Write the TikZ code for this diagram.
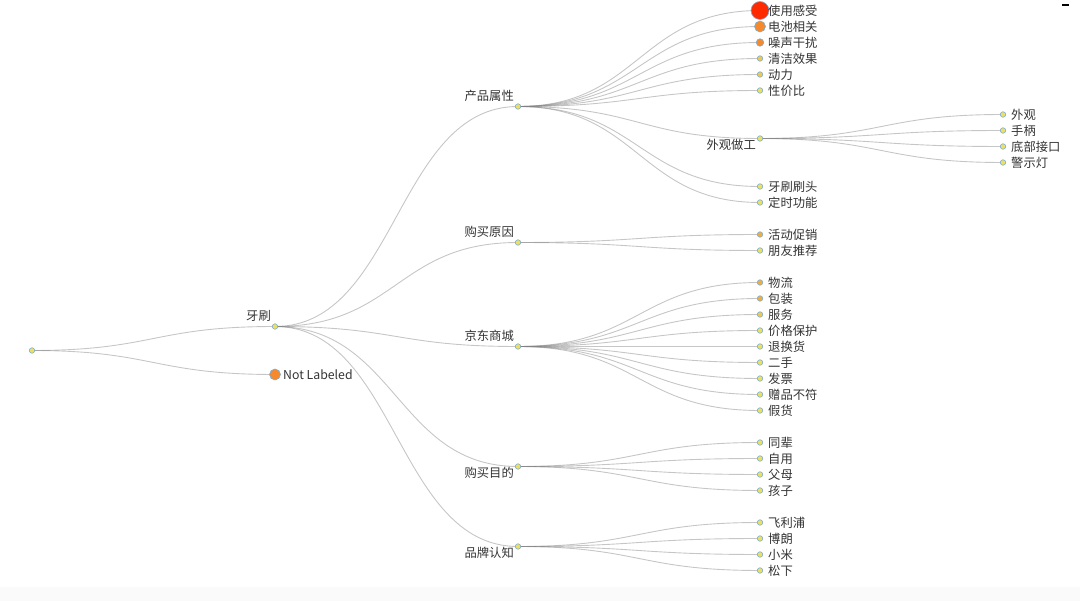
\documentclass[tikz,border=0pt]{standalone}
\usepackage{fontspec}
\newfontfamily\cjk{Noto Sans CJK SC}
\usepackage{tikz}
\usetikzlibrary{positioning,calc,backgrounds}
\definecolor{LinkGray}{HTML}{808080}
\definecolor{DotRim}{HTML}{78AEDC}
\definecolor{DotFill}{HTML}{F0DE5C}
\definecolor{DotMild}{HTML}{F2C84E}
\definecolor{DotWarm}{HTML}{F4AE38}
\definecolor{DotHot}{HTML}{F5892B}
\definecolor{DotHottest}{HTML}{FF2A00}
\definecolor{LabelInk}{HTML}{333333}
\definecolor{BandGray}{HTML}{FAFAFA}

\begin{document}
\begin{tikzpicture}[
  x=1pt, y=-1pt,
  dot/.style={circle, draw=DotRim, fill=DotFill, line width=0.6pt, inner sep=0pt, minimum size=5.5pt},
  mild/.style={dot, fill=DotMild},
  warm/.style={dot, fill=DotWarm},
  hot/.style={dot, fill=DotHot, minimum size=7.5pt},
  hotter/.style={dot, fill=DotHot, minimum size=11pt},
  hottest/.style={dot, fill=DotHottest, minimum size=18pt},
  leaf/.style={font=\cjk\fontsize{12.3}{14}\selectfont, text=LabelInk, inner sep=0pt, yshift=-0.6pt},
  branch/.style={leaf},
  link/.style={draw=LinkGray, draw opacity=0.45, line width=0.9pt,
    to path={let \p1=(\tikztostart), \p2=(\tikztotarget) in
      .. controls ({(\x1+\x2)/2},\y1) and ({(\x1+\x2)/2},\y2) .. (\tikztotarget)}}
]
\useasboundingbox (0,0) rectangle (1080,601);
\fill[BandGray] (0,587) rectangle (1080,601);
\draw[line width=2pt] (1062,5) -- (1069,5);

% root and first level
\node[dot] (root) at (32,350.5) {};
\node[dot] (brush) at (275,326.5) {};
\node[branch, above left=5pt and 4pt of brush.center] (brush-t) {牙刷};
\node[hotter] (unlabeled) at (275,374.5) {};
\node[leaf, right=8pt of unlabeled.center] (unlabeled-t) {Not Labeled};

% second level
\node[dot] (attr) at (518,106.5) {};
\node[branch, above left=5pt and 4pt of attr.center] (attr-t) {产品属性};
\node[dot] (reason) at (518,242.5) {};
\node[branch, above left=5pt and 4pt of reason.center] (reason-t) {购买原因};
\node[dot] (jd) at (518,346.5) {};
\node[branch, above left=5pt and 4pt of jd.center] (jd-t) {京东商城};
\node[dot] (purpose) at (518,466.5) {};
\node[branch, below left=0pt and 4pt of purpose.center] (purpose-t) {购买目的};
\node[dot] (brand) at (518,546.5) {};
\node[branch, below left=0pt and 4pt of brand.center] (brand-t) {品牌认知};

% product attributes
\node[hottest] (use) at (760,10.5) {};
\node[leaf, right=8pt of use.center] (use-t) {使用感受};
\node[hotter] (battery) at (760,26.5) {};
\node[leaf, right=8pt of battery.center] (battery-t) {电池相关};
\node[hot] (noise) at (760,42.5) {};
\node[leaf, right=8pt of noise.center] (noise-t) {噪声干扰};
\node[mild] (clean) at (760,58.5) {};
\node[leaf, right=8pt of clean.center] (clean-t) {清洁效果};
\node[mild] (power) at (760,74.5) {};
\node[leaf, right=8pt of power.center] (power-t) {动力};
\node[dot] (value) at (760,90.5) {};
\node[leaf, right=8pt of value.center] (value-t) {性价比};
\node[dot] (look) at (760,138.5) {};
\node[branch, below left=0pt and 4pt of look.center] (look-t) {外观做工};
\node[dot] (head) at (760,186.5) {};
\node[leaf, right=8pt of head.center] (head-t) {牙刷刷头};
\node[dot] (timer) at (760,202.5) {};
\node[leaf, right=8pt of timer.center] (timer-t) {定时功能};

% appearance
\node[dot] (exterior) at (1003,114.5) {};
\node[leaf, right=8pt of exterior.center] (exterior-t) {外观};
\node[dot] (handle) at (1003,130.5) {};
\node[leaf, right=8pt of handle.center] (handle-t) {手柄};
\node[dot] (port) at (1003,146.5) {};
\node[leaf, right=8pt of port.center] (port-t) {底部接口};
\node[dot] (warnlight) at (1003,162.5) {};
\node[leaf, right=8pt of warnlight.center] (warnlight-t) {警示灯};

% reasons
\node[warm] (promo) at (760,234.5) {};
\node[leaf, right=8pt of promo.center] (promo-t) {活动促销};
\node[dot] (friend) at (760,250.5) {};
\node[leaf, right=8pt of friend.center] (friend-t) {朋友推荐};

% jd mall
\node[warm] (logistics) at (760,282.5) {};
\node[leaf, right=8pt of logistics.center] (logistics-t) {物流};
\node[warm] (package) at (760,298.5) {};
\node[leaf, right=8pt of package.center] (package-t) {包装};
\node[mild] (service) at (760,314.5) {};
\node[leaf, right=8pt of service.center] (service-t) {服务};
\node[dot] (priceguard) at (760,330.5) {};
\node[leaf, right=8pt of priceguard.center] (priceguard-t) {价格保护};
\node[dot] (returns) at (760,346.5) {};
\node[leaf, right=8pt of returns.center] (returns-t) {退换货};
\node[dot] (secondhand) at (760,362.5) {};
\node[leaf, right=8pt of secondhand.center] (secondhand-t) {二手};
\node[dot] (invoice) at (760,378.5) {};
\node[leaf, right=8pt of invoice.center] (invoice-t) {发票};
\node[dot] (gift) at (760,394.5) {};
\node[leaf, right=8pt of gift.center] (gift-t) {赠品不符};
\node[dot] (fake) at (760,410.5) {};
\node[leaf, right=8pt of fake.center] (fake-t) {假货};

% purpose
\node[dot] (peer) at (760,442.5) {};
\node[leaf, right=8pt of peer.center] (peer-t) {同辈};
\node[dot] (self) at (760,458.5) {};
\node[leaf, right=8pt of self.center] (self-t) {自用};
\node[dot] (parents) at (760,474.5) {};
\node[leaf, right=8pt of parents.center] (parents-t) {父母};
\node[dot] (kids) at (760,490.5) {};
\node[leaf, right=8pt of kids.center] (kids-t) {孩子};

% brands
\node[dot] (philips) at (760,522.5) {};
\node[leaf, right=8pt of philips.center] (philips-t) {飞利浦};
\node[dot] (braun) at (760,538.5) {};
\node[leaf, right=8pt of braun.center] (braun-t) {博朗};
\node[dot] (xiaomi) at (760,554.5) {};
\node[leaf, right=8pt of xiaomi.center] (xiaomi-t) {小米};
\node[dot] (panasonic) at (760,570.5) {};
\node[leaf, right=8pt of panasonic.center] (panasonic-t) {松下};

\begin{scope}[on background layer]
\draw[link] (root.center) to (brush.center);
\draw[link] (root.center) to (unlabeled.center);
\draw[link] (brush.center) to (attr.center);
\draw[link] (brush.center) to (reason.center);
\draw[link] (brush.center) to (jd.center);
\draw[link] (brush.center) to (purpose.center);
\draw[link] (brush.center) to (brand.center);
\draw[link] (attr.center) to (use.center);
\draw[link] (attr.center) to (battery.center);
\draw[link] (attr.center) to (noise.center);
\draw[link] (attr.center) to (clean.center);
\draw[link] (attr.center) to (power.center);
\draw[link] (attr.center) to (value.center);
\draw[link] (attr.center) to (look.center);
\draw[link] (attr.center) to (head.center);
\draw[link] (attr.center) to (timer.center);
\draw[link] (look.center) to (exterior.center);
\draw[link] (look.center) to (handle.center);
\draw[link] (look.center) to (port.center);
\draw[link] (look.center) to (warnlight.center);
\draw[link] (reason.center) to (promo.center);
\draw[link] (reason.center) to (friend.center);
\draw[link] (jd.center) to (logistics.center);
\draw[link] (jd.center) to (package.center);
\draw[link] (jd.center) to (service.center);
\draw[link] (jd.center) to (priceguard.center);
\draw[link] (jd.center) to (returns.center);
\draw[link] (jd.center) to (secondhand.center);
\draw[link] (jd.center) to (invoice.center);
\draw[link] (jd.center) to (gift.center);
\draw[link] (jd.center) to (fake.center);
\draw[link] (purpose.center) to (peer.center);
\draw[link] (purpose.center) to (self.center);
\draw[link] (purpose.center) to (parents.center);
\draw[link] (purpose.center) to (kids.center);
\draw[link] (brand.center) to (philips.center);
\draw[link] (brand.center) to (braun.center);
\draw[link] (brand.center) to (xiaomi.center);
\draw[link] (brand.center) to (panasonic.center);
\end{scope}
\end{tikzpicture}
\end{document}
